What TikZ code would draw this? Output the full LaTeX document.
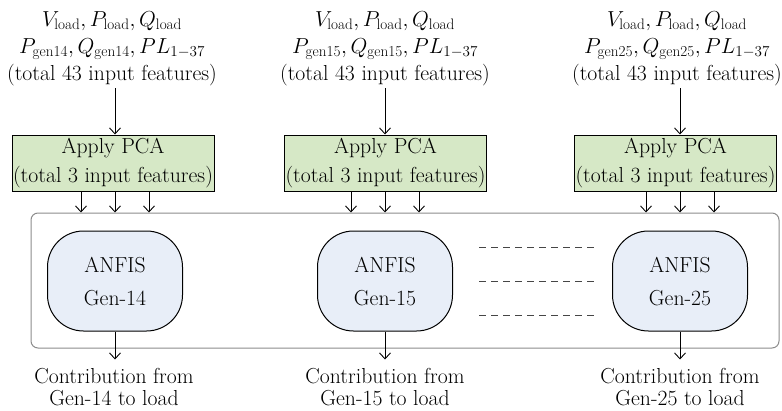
\RequirePackage{fix-cm}
\documentclass[tikz,border=0pt]{standalone}
\usepackage{fontspec}
\usetikzlibrary{arrows.meta,calc}
\definecolor{pcagreen}{RGB}{214,232,198}
\definecolor{anfisblue}{RGB}{232,238,248}
\definecolor{framegray}{RGB}{140,140,140}
\definecolor{dashgray}{RGB}{70,70,70}
\begin{document}
\begin{tikzpicture}[x=1pt,y=-1pt,
  font=\fontsize{21.7}{27}\selectfont,
  arr/.style={-{Straight Barb[length=6pt,width=11pt]}, line width=0.9pt},
  pcabox/.style={draw, line width=1pt, fill=pcagreen, minimum width=202pt, minimum height=56pt, align=center, inner sep=0pt, font=\fontsize{21.7}{29}\selectfont},
  anfis/.style={draw, line width=1pt, fill=anfisblue, rounded corners=36pt, minimum width=135pt, minimum height=100pt, align=center, font=\fontsize{21.7}{33}\selectfont},
  intext/.style={align=center, inner sep=2pt},
  outtext/.style={align=center, inner sep=0pt, font=\fontsize{21.7}{22.5}\selectfont},
  frame/.style={draw=framegray, line width=1pt, rounded corners=7pt},
  dashln/.style={draw=dashgray, line width=0.9pt, dash pattern=on 7pt off 5pt}
  ]
\useasboundingbox (0,0) rectangle (782,410);

% outer frame
\node[frame, minimum width=748pt, minimum height=135pt, inner sep=0pt] (frame) at (405,280.5) {};

% input texts
\node[intext] (in1) at (112,49) {$V_{\mathrm{load}}, P_{\mathrm{load}}, Q_{\mathrm{load}}$\\ $P_{\mathrm{gen14}}, Q_{\mathrm{gen14}}, PL_{1-37}$\\ (total 43 input features)};
\node[intext] (in2) at (385,49) {$V_{\mathrm{load}}, P_{\mathrm{load}}, Q_{\mathrm{load}}$\\ $P_{\mathrm{gen15}}, Q_{\mathrm{gen15}}, PL_{1-37}$\\ (total 43 input features)};
\node[intext] (in3) at (677,49) {$V_{\mathrm{load}}, P_{\mathrm{load}}, Q_{\mathrm{load}}$\\ $P_{\mathrm{gen25}}, Q_{\mathrm{gen25}}, PL_{1-37}$\\ (total 43 input features)};

% PCA boxes
\node[pcabox] (pca1) at (113,163) {Apply PCA\\(total 3 input features)};
\node[pcabox] (pca2) at (385.5,163) {Apply PCA\\(total 3 input features)};
\node[pcabox] (pca3) at (675.5,163) {Apply PCA\\(total 3 input features)};

% ANFIS boxes
\node[anfis] (a1) at (115,281) {ANFIS\\Gen-14};
\node[anfis] (a2) at (385,281) {ANFIS\\Gen-15};
\node[anfis] (a3) at (680,281) {ANFIS\\Gen-25};

% output texts
\node[outtext] (o1) at (114,387) {Contribution from\\Gen-14 to load};
\node[outtext] (o2) at (385,387) {Contribution from\\Gen-15 to load};
\node[outtext] (o3) at (680,387) {Contribution from\\Gen-25 to load};

% input arrows
\foreach \i in {1,2,3}{
  \draw[arr] (in\i.south -| a\i.center) -- (pca\i.north -| a\i.center);
  \foreach \dx in {-34,0,34}{
    \draw[arr] ($(pca\i.south -| a\i.center)+(\dx,0)$) -- ($(frame.north -| a\i.center)+(\dx,0)$);
  }
  \draw[arr] (a\i.south) -- ($(a\i.south)+(0,28)$) coordinate (t\i);
}

% dashed lines
\coordinate (d1s) at (479,247); \coordinate (d1e) at (594,247);
\coordinate (d2s) at (479,281); \coordinate (d2e) at (594,281);
\coordinate (d3s) at (479,315); \coordinate (d3e) at (594,315);
\draw[dashln] (d1s) -- (d1e);
\draw[dashln] (d2s) -- (d2e);
\draw[dashln] (d3s) -- (d3e);
\end{tikzpicture}
\end{document}
